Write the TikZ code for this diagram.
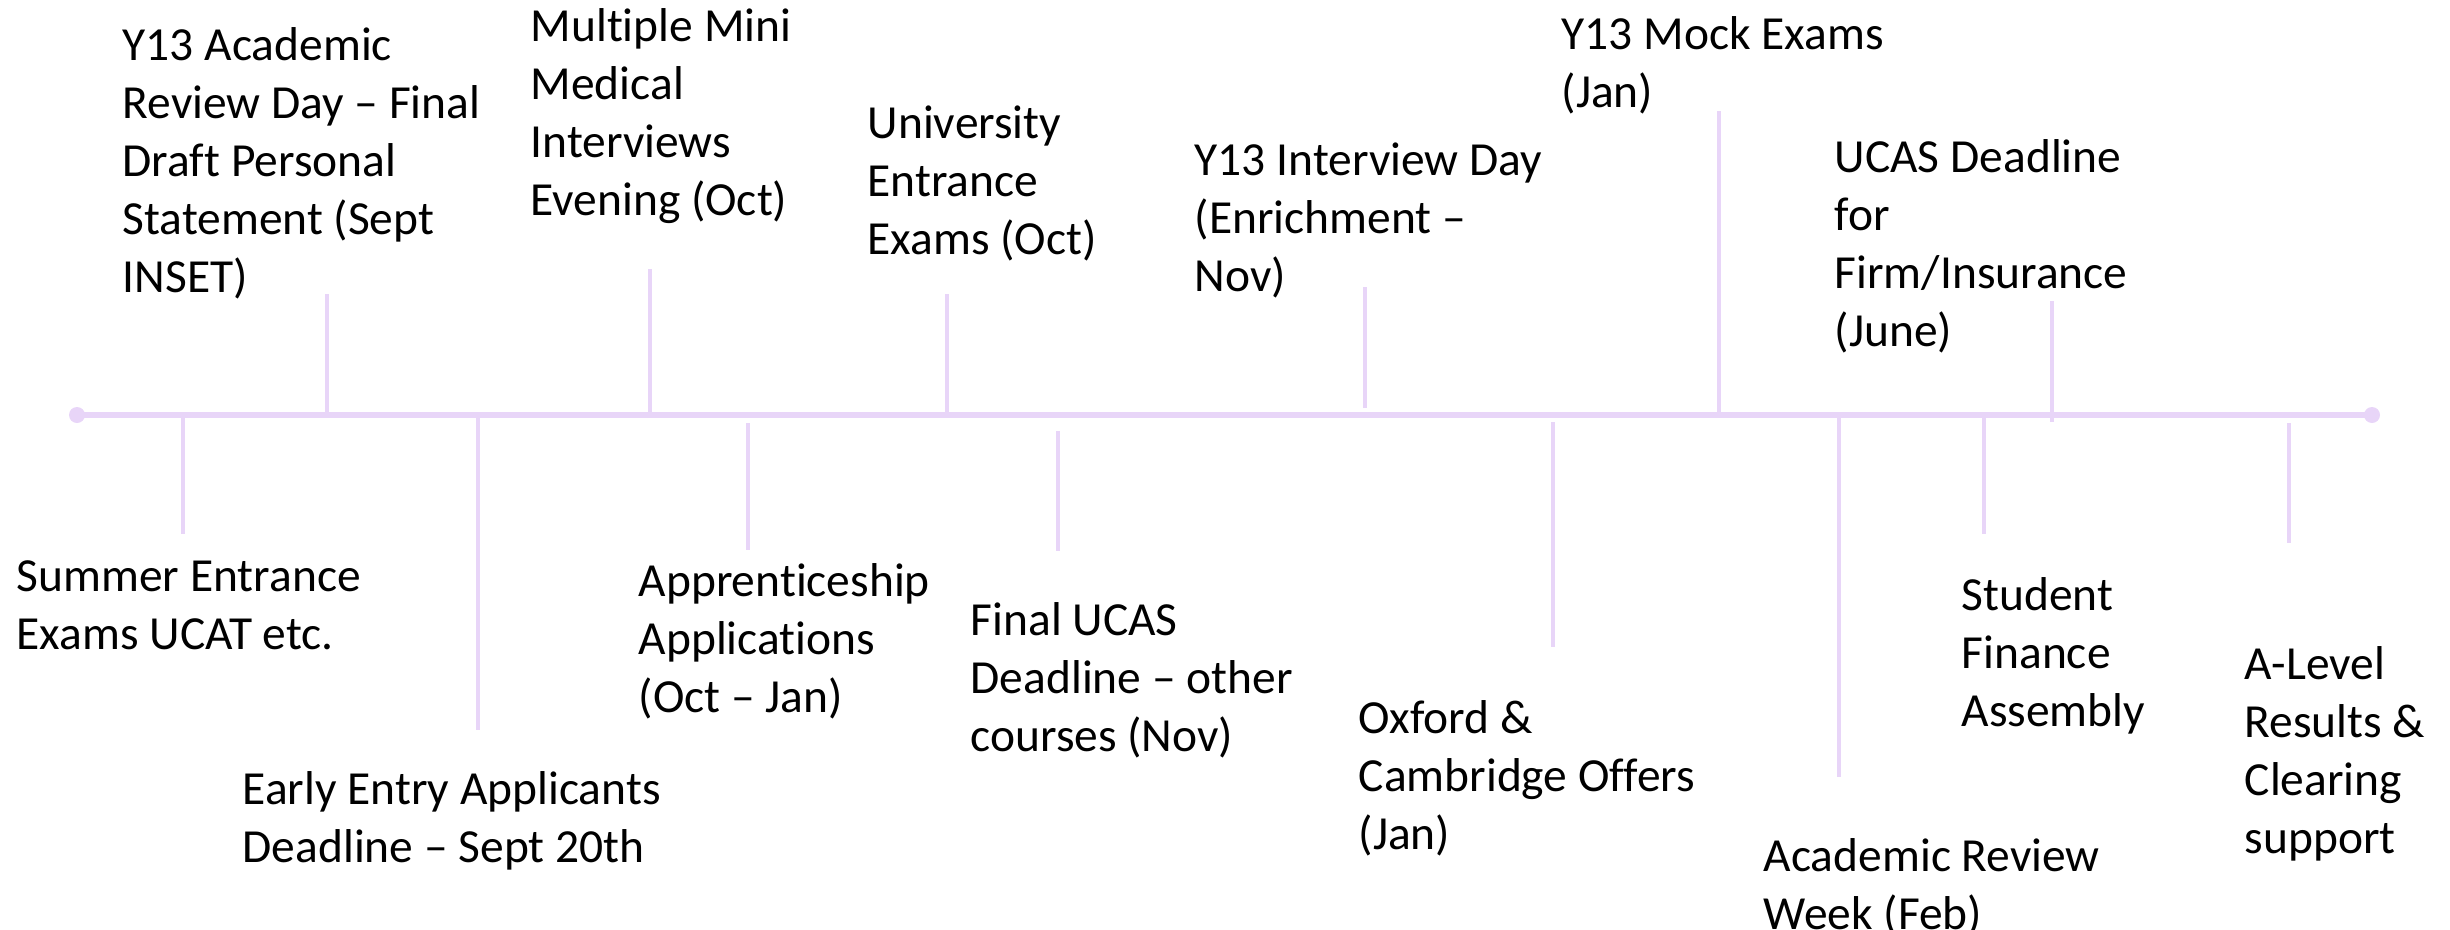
\documentclass[tikz,border=0pt]{standalone}
\usepackage{fontspec}
\setmainfont{Carlito}[Ligatures=NoCommon]
\usetikzlibrary{positioning}

\definecolor{lavender}{HTML}{E8D5F8}
\newcommand{\lblfont}{\fontsize{13.5}{16.5}\selectfont}

\tikzset{
	timeline/.style={draw=lavender, line width=1.7pt},
	tick/.style={draw=lavender, line width=1.4pt},
	lbl/.style={anchor=north west, inner sep=0pt, align=left, font=\lblfont}
}

\begin{document}
\begin{tikzpicture}[x=0.01cm, y=-0.01cm]
					\useasboundingbox (0,0) rectangle (2450,930);

					\coordinate (start) at (77,415);
					\coordinate (end) at (2372,415);
					\draw[timeline] (start) -- (end);
					\fill[lavender] (start) circle (8);
					\fill[lavender] (end) circle (8);

					\coordinate (acad-a) at (327,414);   \coordinate (acad-b) at (327,294);
					\coordinate (mmi-a) at (650,414);    \coordinate (mmi-b) at (650,269);
					\coordinate (uni-a) at (947,414);    \coordinate (uni-b) at (947,294);
					\coordinate (intv-a) at (1365,408);  \coordinate (intv-b) at (1365,287);
					\coordinate (mock-a) at (1719,414);  \coordinate (mock-b) at (1719,111);
					\coordinate (firm-a) at (2052,422);  \coordinate (firm-b) at (2052,301);

					\coordinate (summer-a) at (183,414);  \coordinate (summer-b) at (183,534);
					\coordinate (early-a) at (478,414);   \coordinate (early-b) at (478,730);
					\coordinate (appr-a) at (748,423);    \coordinate (appr-b) at (748,550);
					\coordinate (ucas-a) at (1058,431);   \coordinate (ucas-b) at (1058,551);
					\coordinate (oxf-a) at (1553,422);    \coordinate (oxf-b) at (1553,647);
					\coordinate (week-a) at (1839,414);   \coordinate (week-b) at (1839,777);
					\coordinate (fin-a) at (1984,414);    \coordinate (fin-b) at (1984,534);
					\coordinate (alev-a) at (2289,423);   \coordinate (alev-b) at (2289,543);

					\foreach \t in {acad, mmi, uni, intv, mock, firm,
						summer, early, appr, ucas, oxf, week, fin, alev}
						\draw[tick] (\t-a) -- (\t-b);

					\node[lbl] (acad) at (122,19) {\strut Y13 Academic\\Review Day -- Final\\Draft Personal\\Statement (Sept\\INSET)};
					\node[lbl] (mmi) at (530,0) {\strut Multiple Mini\\Medical\\Interviews\\Evening (Oct)};
					\node[lbl] (uni) at (867,97) {\strut University\\Entrance\\Exams (Oct)};
					\node[lbl] (intv) at (1194,134) {\strut Y13 Interview Day\\(Enrichment --\\Nov)};
					\node[lbl] (mock) at (1561,8) {\strut Y13 Mock Exams\\(Jan)};
					\node[lbl] (firm) at (1834,131) {\strut UCAS Deadline\\for\\Firm/Insurance\\(June)};

					\node[lbl] (summer) at (16,550) {\strut Summer Entrance\\Exams UCAT etc.};
					\node[lbl] (early) at (242,763) {\strut Early Entry Applicants\\Deadline -- Sept 20th};
					\node[lbl] (appr) at (638,555) {\strut Apprenticeship\\Applications\\(Oct -- Jan)};
					\node[lbl] (ucas) at (970,594) {\strut Final UCAS\\Deadline -- other\\courses (Nov)};
					\node[lbl] (oxf) at (1358,692) {\strut Oxford \&\\Cambridge Offers\\(Jan)};
					\node[lbl] (week) at (1763,830) {\strut Academic Review\\Week (Feb)};
					\node[lbl] (fin) at (1961,569) {\strut Student\\Finance\\Assembly};
					\node[lbl] (alev) at (2244,638) {\strut A-Level\\Results \&\\Clearing\\support};
\end{tikzpicture}
\end{document}
